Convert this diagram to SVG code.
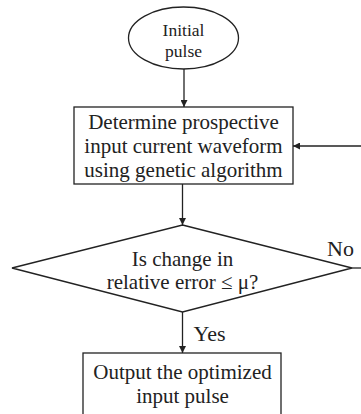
<svg xmlns="http://www.w3.org/2000/svg" width="361" height="414" viewBox="0 0 361 414">
<style>
.s{fill:#fff;stroke:#222;stroke-width:1.3}
.c{fill:none;stroke:#222;stroke-width:1.3}
text{font-family:"Liberation Serif","Times New Roman",serif;fill:#222;text-anchor:middle}
.big{font-size:21px}
.lbl{font-size:22px}
.sm{font-size:17.5px}
</style>
<defs>
<marker id="ah" viewBox="0 0 10 10" refX="10" refY="5" markerWidth="8" markerHeight="7" markerUnits="userSpaceOnUse" orient="auto">
<path d="M0,0 L10,5 L0,10 z" fill="#222"/>
</marker>
</defs>
<rect width="361" height="414" fill="#fff"/>
<g id="connectors">
<line class="c" x1="184" y1="68" x2="184" y2="107" marker-end="url(#ah)"/>
<line class="c" x1="361" y1="146" x2="293" y2="146" marker-end="url(#ah)"/>
<line class="c" x1="182.5" y1="184" x2="182.5" y2="225" marker-end="url(#ah)"/>
<line class="c" x1="352" y1="268" x2="361" y2="268"/>
<line class="c" x1="182.5" y1="312" x2="182.5" y2="353" marker-end="url(#ah)"/>
<text class="lbl" x="340.5" y="256">No</text>
<text class="lbl" x="209.5" y="341">Yes</text>
</g>
<g id="start">
<ellipse class="s" cx="183.5" cy="38" rx="55" ry="31"/>
<text class="sm" x="183.5" y="36">Initial</text>
<text class="sm" x="183.5" y="56.5">pulse</text>
</g>
<g id="determine">
<rect class="s" x="74" y="107" width="219" height="77"/>
<text class="big" x="183.5" y="129">Determine prospective</text>
<text class="big" x="183.5" y="153">input current waveform</text>
<text class="big" x="183.5" y="177">using genetic algorithm</text>
</g>
<g id="decision">
<polygon class="s" points="182.5,225 352,268 182.5,312 12,268"/>
<text class="big" x="182.5" y="266">Is change in</text>
<text class="big" x="182.5" y="289">relative error ≤ μ?</text>
</g>
<g id="output">
<rect class="s" x="83" y="353" width="198" height="70"/>
<text class="big" x="182.5" y="379">Output the optimized</text>
<text class="big" x="182.5" y="403">input pulse</text>
</g>
</svg>
